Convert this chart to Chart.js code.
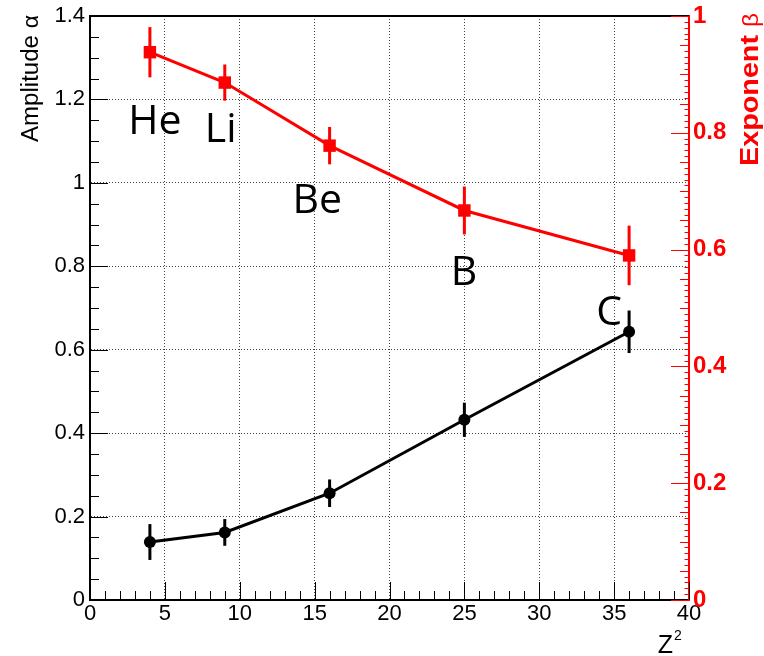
<!DOCTYPE html>
<html>
<head>
<meta charset="utf-8">
<script src="https://cdn.jsdelivr.net/npm/chart.js@4.4.1/dist/chart.umd.min.js"></script>
<style>
  html, body { margin: 0; padding: 0; background: #fff; }
  canvas { display: block; }
</style>
</head>
<body>
<canvas id="chart" width="764" height="656"></canvas>
<script>
// Z^2 of each nucleus
const z2 = [4, 9, 16, 25, 36]
const elements = ["He", "Li", "Be", "B", "C"]

// amplitude alpha (left axis)
const alpha = [0.139, 0.162, 0.256, 0.432, 0.643]
const alphaErr = [0.043, 0.032, 0.033, 0.041, 0.051]

// exponent beta (right axis)
const beta = [0.938, 0.886, 0.778, 0.667, 0.590]
const betaErr = [0.043, 0.031, 0.032, 0.041, 0.051]

// tick labels
const z2Ticks = [0, 5, 10, 15, 20, 25, 30, 35, 40]
const alphaTicks = [0, 0.2, 0.4, 0.6, 0.8, 1, 1.2, 1.4]
const betaTicks = [0, 0.2, 0.4, 0.6, 0.8, 1]

// element name anchors, in (Z^2, alpha) units
const labelZ2 = [4.33, 8.73, 15.17, 24.97, 34.67]
const labelAlpha = [1.118, 1.099, 0.927, 0.755, 0.659]

const RED = "#ff0000"
const SANS = "'Liberation Sans', Arial, sans-serif"

function setTicks(values) {
    return scale => { scale.ticks = values.map(v => ({ value: v })) }
}

// tick marks drawn inside the frame, ROOT style
function innerTicks(ctx, scale, levels, color) {
    const fine = levels[levels.length - 1][0]
    const n = Math.round((scale.max - scale.min) / fine)
    ctx.strokeStyle = color
    ctx.lineWidth = 1
    for (let i = 0; i <= n; i++) {
        const v = scale.min + i * fine
        const lvl = levels.find(([s]) => Math.abs(v / s - Math.round(v / s)) < 1e-6)
        const len = lvl[1]
        const p = Math.round(scale.getPixelForValue(v)) + 0.5
        ctx.beginPath()
        if (scale.isHorizontal()) {
            ctx.moveTo(p, scale.top)
            ctx.lineTo(p, scale.top - len)
        } else if (scale.position === "left") {
            ctx.moveTo(scale.right, p)
            ctx.lineTo(scale.right + len, p)
        } else {
            ctx.moveTo(scale.left, p)
            ctx.lineTo(scale.left - len, p)
        }
        ctx.stroke()
    }
}

// rotated title reading upwards, fitted along the text to a given length
function verticalTitle(ctx, parts, x, yTop, length) {
    ctx.save()
    let total = 0
    parts.forEach(p => {
        ctx.font = p.font
        p.w = ctx.measureText(p.text).width
        total += p.w
    })
    ctx.translate(x, yTop)
    ctx.rotate(-Math.PI / 2)
    ctx.scale(length / total, 1)
    ctx.textAlign = "left"
    ctx.textBaseline = "alphabetic"
    let pos = -total
    parts.forEach(p => {
        ctx.font = p.font
        ctx.fillStyle = p.color
        ctx.fillText(p.text, pos, 0)
        pos += p.w
    })
    ctx.restore()
}

const framePlugin = {
    id: "frame",
    beforeDatasetsDraw(chart) {
        const { ctx, chartArea: a, scales } = chart
        ctx.save()
        ctx.strokeStyle = "#000"
        ctx.lineWidth = 2
        ctx.beginPath()
        ctx.moveTo(a.left, a.top)
        ctx.lineTo(a.right, a.top)
        ctx.stroke()
        innerTicks(ctx, scales.x, [[5, 18], [1, 9]], "#000")
        innerTicks(ctx, scales.y, [[0.2, 18], [0.05, 9]], "#000")
        innerTicks(ctx, scales.y1, [[0.2, 18], [0.05, 9], [0.01, 4.5]], RED)
        ctx.restore()
    },
}

// vertical error bars from the err arrays attached to each dataset
const errorBarPlugin = {
    id: "errorBars",
    beforeDatasetsDraw(chart) {
        const { ctx } = chart
        ctx.save()
        chart.data.datasets.forEach(ds => {
            const ys = chart.scales[ds.yAxisID]
            const xs = chart.scales.x
            ctx.strokeStyle = ds.borderColor
            ctx.lineWidth = 3
            ds.data.forEach((pt, i) => {
                const x = xs.getPixelForValue(pt.x)
                ctx.beginPath()
                ctx.moveTo(x, ys.getPixelForValue(pt.y - ds.err[i]))
                ctx.lineTo(x, ys.getPixelForValue(pt.y + ds.err[i]))
                ctx.stroke()
            })
        })
        ctx.restore()
    },
}

const textPlugin = {
    id: "texts",
    afterDraw(chart) {
        const { ctx, scales } = chart
        ctx.save()

        // element names
        ctx.fillStyle = "#000"
        ctx.font = "41px 'Open Sans', sans-serif"
        ctx.textAlign = "center"
        ctx.textBaseline = "alphabetic"
        elements.forEach((name, i) => {
            ctx.fillText(name, scales.x.getPixelForValue(labelZ2[i]), scales.y.getPixelForValue(labelAlpha[i]))
        })

        // axis titles
        verticalTitle(ctx, [
            { text: "Amplitude ", font: "23px " + SANS, color: "#000" },
            { text: "α", font: "22px " + SANS, color: "#000" },
        ], 38, 15, 127)
        verticalTitle(ctx, [
            { text: "Exponent ", font: "bold 26px " + SANS, color: RED },
            { text: "β", font: "22px " + SANS, color: RED },
        ], 758, 13, 153)

        ctx.fillStyle = "#000"
        ctx.textAlign = "right"
        ctx.font = "25px " + SANS
        ctx.fillText("Z", 673, 653)
        ctx.textAlign = "left"
        ctx.font = "14px " + SANS
        ctx.fillText("2", 674, 640)

        ctx.restore()
    },
}

new Chart(document.getElementById("chart"), {
    type: "line",
    data: {
        datasets: [
            {
                label: "alpha",
                yAxisID: "y",
                data: z2.map((x, i) => ({ x: x, y: alpha[i] })),
                err: alphaErr,
                borderColor: "#000",
                backgroundColor: "#000",
                borderWidth: 3,
                pointStyle: "circle",
                pointRadius: 6,
                pointBorderWidth: 0,
                fill: false,
            },
            {
                label: "beta",
                yAxisID: "y1",
                data: z2.map((x, i) => ({ x: x, y: beta[i] })),
                err: betaErr,
                borderColor: RED,
                backgroundColor: RED,
                borderWidth: 3,
                pointStyle: "rect",
                pointRadius: 8.8,
                pointBorderWidth: 0,
                fill: false,
            },
        ],
    },
    options: {
        responsive: false,
        animation: false,
        devicePixelRatio: 1,
        layout: { padding: { top: 14, left: 0, right: 0, bottom: 0 } },
        plugins: {
            legend: { display: false },
            tooltip: { enabled: false },
        },
        scales: {
            x: {
                type: "linear",
                min: 0,
                max: 40,
                afterBuildTicks: setTicks(z2Ticks),
                afterFit: scale => { scale.height = 56 },
                grid: {
                    drawTicks: false,
                    color: c => (c.tick && c.tick.value > 0 && c.tick.value < 40 ? "#444" : "transparent"),
                    lineWidth: 1,
                },
                border: { color: "#000", width: 2, dash: [1, 2] },
                ticks: {
                    padding: 3,
                    color: "#000",
                    font: { family: SANS, size: 22, lineHeight: 1 },
                    callback: v => String(v),
                    maxRotation: 0,
                    autoSkip: false,
                },
            },
            y: {
                type: "linear",
                position: "left",
                min: 0,
                max: 1.4,
                afterBuildTicks: setTicks(alphaTicks),
                afterFit: scale => { scale.width = 90 },
                grid: {
                    drawTicks: false,
                    color: c => (c.tick && c.tick.value > 0 && c.tick.value < 1.4 ? "#444" : "transparent"),
                    lineWidth: 1,
                },
                border: { color: "#000", width: 2, dash: [1, 2] },
                ticks: {
                    padding: 5,
                    color: "#000",
                    font: { family: SANS, size: 22, lineHeight: 1 },
                    callback: v => String(Math.round(v * 10) / 10),
                    autoSkip: false,
                },
            },
            y1: {
                type: "linear",
                position: "right",
                min: 0,
                max: 1,
                afterBuildTicks: setTicks(betaTicks),
                afterFit: scale => { scale.width = 75 },
                grid: { display: false, drawTicks: false },
                border: { color: RED, width: 2 },
                ticks: {
                    padding: 4,
                    color: RED,
                    font: { family: SANS, size: 24, weight: "bold", lineHeight: 1 },
                    callback: v => String(Math.round(v * 10) / 10),
                    autoSkip: false,
                },
            },
        },
    },
    plugins: [framePlugin, errorBarPlugin, textPlugin],
})
</script>
</body>
</html>
